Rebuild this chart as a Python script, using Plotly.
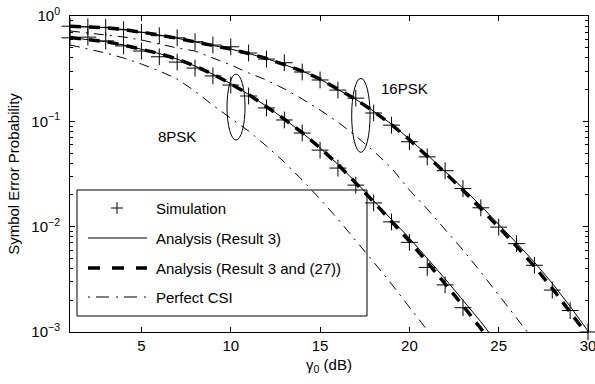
import math
import plotly.graph_objects as go

# ---------------- data ----------------
snr16 = list(range(1, 31))
snr8 = list(range(1, 26))
snr8_sim = list(range(1, 24))
snr16_pc = list(range(1, 28))
snr8_pc = list(range(1, 22))

sim16 = [0.80, 0.79, 0.78, 0.74, 0.70, 0.65, 0.62, 0.57, 0.53, 0.51,
         0.445, 0.39, 0.36, 0.294, 0.247, 0.198, 0.166, 0.120, 0.092, 0.064,
         0.046, 0.034, 0.023, 0.0151, 0.0099, 0.0069, 0.0043, 0.0025, 0.0016, 0.0010]
res3_16 = [0.80, 0.79, 0.775, 0.745, 0.705, 0.66, 0.615, 0.57, 0.53, 0.485,
           0.44, 0.395, 0.345, 0.30, 0.252, 0.20, 0.162, 0.125, 0.094, 0.068,
           0.048, 0.0335, 0.0232, 0.0158, 0.0106, 0.0070, 0.0046, 0.0029, 0.00175, 0.00102]
res27_16 = [0.80, 0.79, 0.775, 0.745, 0.705, 0.66, 0.615, 0.57, 0.53, 0.485,
            0.44, 0.395, 0.345, 0.30, 0.252, 0.20, 0.162, 0.124, 0.093, 0.067,
            0.047, 0.0325, 0.0222, 0.0150, 0.0099, 0.0065, 0.0042, 0.0026, 0.00155, 0.00092]
pc16 = [0.721, 0.690, 0.660, 0.632, 0.592, 0.542, 0.497, 0.465, 0.399, 0.343,
        0.288, 0.247, 0.203, 0.163, 0.128, 0.0985, 0.0725, 0.0522, 0.0360, 0.0223,
        0.0147, 0.00948, 0.00600, 0.00371, 0.00224, 0.00136, 0.00082]

sim8 = [0.62, 0.63, 0.58, 0.52, 0.465, 0.41, 0.365, 0.32, 0.27, 0.221,
        0.174, 0.134, 0.103, 0.0774, 0.0533, 0.036, 0.0248, 0.0168, 0.0111, 0.0071,
        0.0041, 0.0028, 0.0017]
res3_8 = [0.625, 0.60, 0.57, 0.53, 0.485, 0.44, 0.39, 0.335, 0.28, 0.228,
          0.18, 0.139, 0.105, 0.078, 0.056, 0.039, 0.0265, 0.0178, 0.0117, 0.0078,
          0.0050, 0.0032, 0.0020, 0.00125, 0.00075]
res27_8 = [0.625, 0.60, 0.57, 0.53, 0.485, 0.44, 0.39, 0.335, 0.28, 0.228,
           0.18, 0.139, 0.105, 0.078, 0.056, 0.039, 0.0262, 0.0172, 0.0112, 0.0073,
           0.0046, 0.0029, 0.00178, 0.00108, 0.00063]
pc8 = [0.531, 0.486, 0.445, 0.399, 0.350, 0.301, 0.252, 0.193, 0.142, 0.107,
       0.081, 0.0582, 0.0410, 0.0277, 0.0183, 0.0118, 0.00746, 0.00461, 0.00285, 0.00172,
       0.00104]

x_ticks = [5, 10, 15, 20, 25, 30]
y_ticks = [1, 0.1, 0.01, 0.001]
y_ticktext = ["10<sup>0</sup>", "10<sup>\u22121</sup>", "10<sup>\u22122</sup>", "10<sup>\u22123</sup>"]
y_minor = [m * 10.0 ** e for e in (-3, -2, -1) for m in range(2, 10)]

legend_labels = ["Simulation", "Analysis (Result 3)", "Analysis (Result 3 and (27))", "Perfect CSI"]

# group labels and ellipses (data coordinates)
labels = [("8PSK", 7.0, 10 ** -1.14), ("16PSK", 19.7, 10 ** -0.684)]
ellipses = [(9.79, 10.80, 0.0664, 0.281), (16.77, 17.80, 0.0508, 0.256)]

FONT = "Liberation Sans, Arial, Helvetica, sans-serif"
DASHDOT = "10px,6px,2px,6px"
THICKDASH = "11px,8px"

fig = go.Figure()

for xs, ys in ((snr16_pc, pc16), (snr8_pc, pc8)):
    fig.add_trace(go.Scatter(x=xs, y=ys, mode="lines",
                             line=dict(color="black", width=1, dash=DASHDOT),
                             showlegend=False, hoverinfo="skip"))
for xs, ys in ((snr16, res27_16), (snr8, res27_8)):
    fig.add_trace(go.Scatter(x=xs, y=ys, mode="lines",
                             line=dict(color="black", width=3.5, dash=THICKDASH),
                             showlegend=False))
for xs, ys in ((snr16, res3_16), (snr8, res3_8)):
    fig.add_trace(go.Scatter(x=xs, y=ys, mode="lines",
                             line=dict(color="black", width=1),
                             showlegend=False))
for xs, ys in ((snr16, sim16), (snr8_sim, sim8)):
    fig.add_trace(go.Scatter(x=xs, y=ys, mode="markers", cliponaxis=False,
                             marker=dict(symbol="cross-thin", size=12, color="black",
                                         line=dict(color="black", width=1)),
                             showlegend=False))

shapes = []
for x0, x1, y0, y1 in ellipses:
    shapes.append(dict(type="circle", xref="x", yref="y", x0=x0, x1=x1, y0=y0, y1=y1,
                       line=dict(color="black", width=1)))

# ---- manual legend (paper coordinates), plot area 518 x 316 px ----
PW, PH = 518.0, 316.0
def px(p):
    return (p - 70) / PW
def py(p):
    return (332 - p) / PH

shapes.append(dict(type="rect", xref="paper", yref="paper",
                   x0=px(77), x1=px(367), y0=py(316), y1=py(190),
                   line=dict(color="black", width=1), fillcolor="rgba(0,0,0,0)"))
rows = [208, 238, 268, 297]
shapes.append(dict(type="line", xref="paper", yref="paper", x0=px(111), x1=px(123),
                   y0=py(rows[0]), y1=py(rows[0]), line=dict(color="black", width=1)))
shapes.append(dict(type="line", xref="paper", yref="paper", x0=px(117), x1=px(117),
                   y0=py(rows[0] - 6), y1=py(rows[0] + 6), line=dict(color="black", width=1)))
shapes.append(dict(type="line", xref="paper", yref="paper", x0=px(88), x1=px(147),
                   y0=py(rows[1]), y1=py(rows[1]), line=dict(color="black", width=1)))
shapes.append(dict(type="line", xref="paper", yref="paper", x0=px(88), x1=px(147),
                   y0=py(rows[2]), y1=py(rows[2]), line=dict(color="black", width=3.5, dash="12px,12px")))
shapes.append(dict(type="line", xref="paper", yref="paper", x0=px(88), x1=px(147),
                   y0=py(rows[3]), y1=py(rows[3]), line=dict(color="black", width=1, dash="2px,6px,13px,7px")))

annotations = []
for lab, r in zip(legend_labels, rows):
    annotations.append(dict(text=lab, xref="paper", yref="paper", x=px(154), y=py(r),
                            xanchor="left", yanchor="middle", showarrow=False,
                            font=dict(family=FONT, size=15, color="black")))
for lab, xv, yv in labels:
    annotations.append(dict(text=lab, xref="x", yref="y", x=xv, y=math.log10(yv),
                            xanchor="center", yanchor="middle", showarrow=False,
                            font=dict(family=FONT, size=15, color="black")))

fig.update_layout(
    width=595, height=384,
    margin=dict(l=70, r=7, t=16, b=52, autoexpand=False),
    paper_bgcolor="white", plot_bgcolor="white",
    font=dict(family=FONT, size=15, color="black"),
    showlegend=False,
    shapes=shapes, annotations=annotations,
    xaxis=dict(range=[1, 30], tickvals=x_ticks, ticks="inside", ticklen=5,
               tickcolor="black", showline=True, linecolor="black", linewidth=1,
               mirror="ticks", showgrid=False, zeroline=False, automargin=False,
               ticklabeloverflow="allow",
               tickfont=dict(family=FONT, size=15, color="black"),
               title=dict(text="\u03b3<sub>0</sub> (dB)", standoff=6,
                          font=dict(family=FONT, size=15, color="black"))),
    yaxis=dict(type="log", range=[-3, 0], tickmode="array", tickvals=y_ticks,
               ticktext=y_ticktext, ticks="inside", ticklen=5, tickcolor="black",
               showline=True, linecolor="black", linewidth=1, mirror="ticks",
               showgrid=False, zeroline=False, ticklabelstandoff=6, automargin=False,
               minor=dict(tickmode="array", tickvals=y_minor, ticks="inside",
                          ticklen=3, tickcolor="black", showgrid=False),
               tickfont=dict(family=FONT, size=15, color="black"),
               title=dict(text="Symbol Error Probability", standoff=8,
                          font=dict(family=FONT, size=15, color="black"))),
    yaxis2=dict(type="log", range=[-3, 0], overlaying="y", side="right", anchor="x",
                tickmode="array", tickvals=y_ticks, ticks="inside", ticklen=5,
                tickcolor="black", showticklabels=False, showline=False,
                showgrid=False, zeroline=False, automargin=False,
                minor=dict(tickmode="array", tickvals=y_minor, ticks="inside",
                           ticklen=3, tickcolor="black", showgrid=False)),
)

fig.write_html("out.html")
